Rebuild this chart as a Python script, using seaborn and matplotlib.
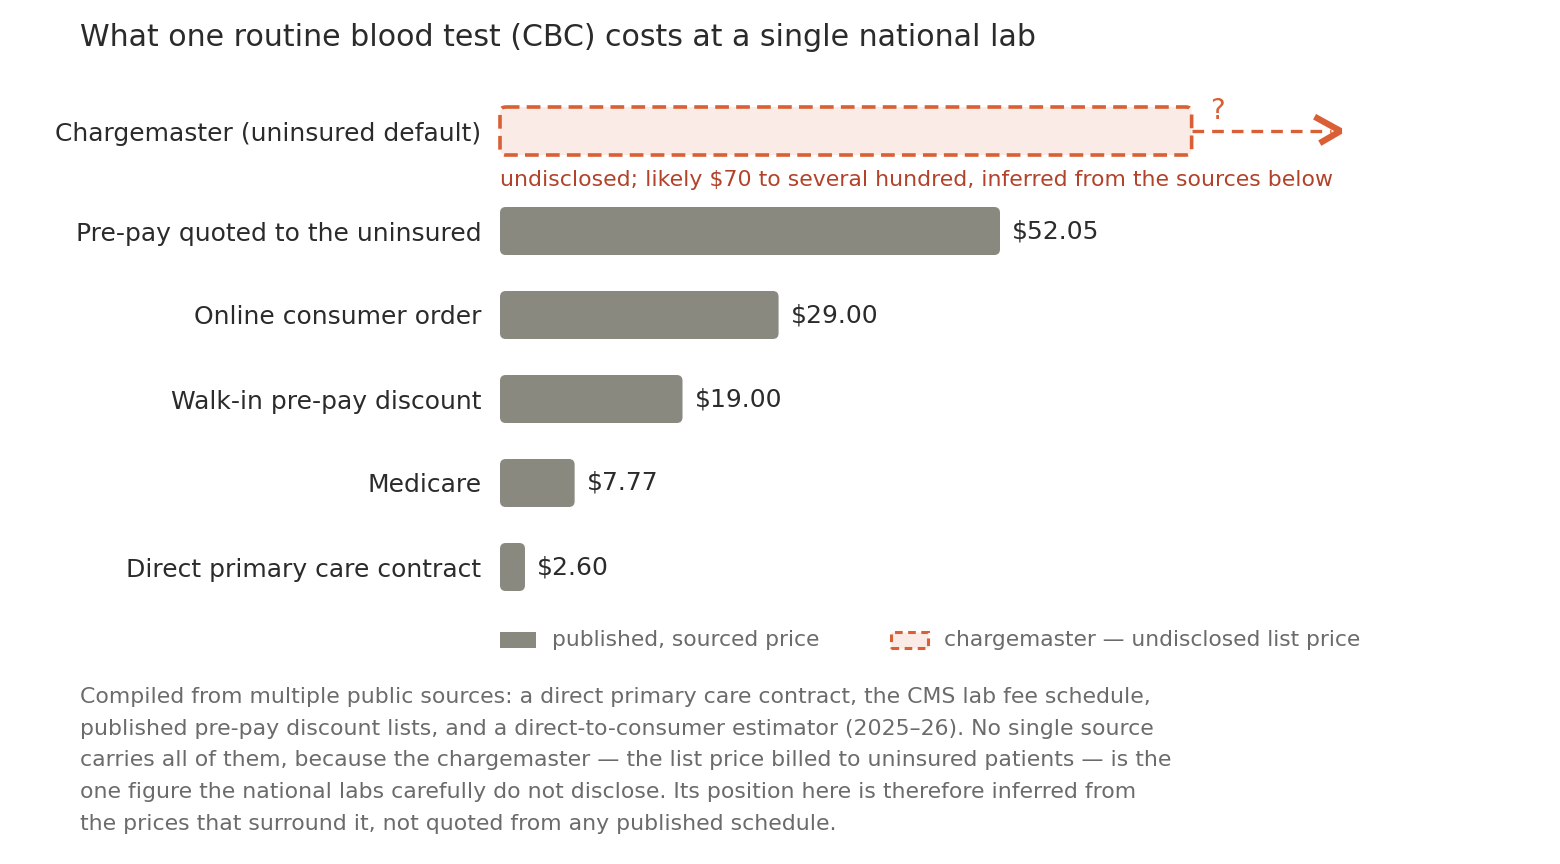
import matplotlib
matplotlib.use("Agg")
import matplotlib.pyplot as plt
import seaborn as sns
import pandas as pd
from matplotlib.patches import FancyBboxPatch, Rectangle

# data
categories = ["Pre-pay quoted to the uninsured", "Online consumer order",
              "Walk-in pre-pay discount", "Medicare", "Direct primary care contract"]
prices = [52.05, 29.00, 19.00, 7.77, 2.60]
price_labels = ["$52.05", "$29.00", "$19.00", "$7.77", "$2.60"]
charge_label = "Chargemaster (uninsured default)"
charge_low = 72      # inferred lower edge of the undisclosed list price
charge_arrow = 87.5  # "and beyond"
charge_note = "undisclosed; likely $70 to several hundred, inferred from the sources below"

title = "What one routine blood test (CBC) costs at a single national lab"
footnote = ("Compiled from multiple public sources: a direct primary care contract, the CMS lab fee schedule,\n"
            "published pre-pay discount lists, and a direct-to-consumer estimator (2025\u201326). No single source\n"
            "carries all of them, because the chargemaster \u2014 the list price billed to uninsured patients \u2014 is the\n"
            "one figure the national labs carefully do not disclose. Its position here is therefore inferred from\n"
            "the prices that surround it, not quoted from any published schedule.")

GRAY = "#8a8980"
ORANGE = "#d95f35"
PINK = "#fbebe6"
NOTE = "#b2432a"
DARK = "#2b2b2b"
MUTED = "#6b6b6b"

sns.set_theme(style="white")
plt.rcParams["font.family"] = ["DejaVu Sans"]

W, H = 1560, 864
fig = plt.figure(figsize=(W / 100, H / 100), dpi=100)
# axes spans x: 500..1460 px, y: 90..600 px
ax = fig.add_axes([500 / W, 1 - 600 / H, 960 / W, 510 / H])

df = pd.DataFrame({"category": categories, "price": prices})
bh = 48 / 84
sns.barplot(data=df, y="category", x="price", orient="h", color=GRAY,
            width=bh, ax=ax, saturation=1)

xmax = 960 / 9.606
ax.set_xlim(0, xmax)
y_charge = -100 / 84
ax.set_ylim(4 + 33 / 84, -141 / 84)

# rounded bars
asp = (1 / 84) / (1 / 9.606)
for p in list(ax.patches):
    x0, y0 = p.get_x(), p.get_y()
    w, h = p.get_width(), p.get_height()
    p.remove()
    ax.add_patch(FancyBboxPatch((x0, y0), w, h,
                                boxstyle="round,pad=0,rounding_size=0.6",
                                mutation_aspect=asp, facecolor=GRAY,
                                edgecolor="none"))

for i, (v, lab) in enumerate(zip(prices, price_labels)):
    ax.text(v + 12 / 9.606, i, lab, va="center", ha="left", fontsize=18, color=DARK)

# chargemaster box
ax.add_patch(FancyBboxPatch((0, y_charge - bh / 2), charge_low, bh,
                            boxstyle="round,pad=0,rounding_size=0.6",
                            mutation_aspect=asp, facecolor=PINK,
                            edgecolor=ORANGE, linewidth=2.6,
                            linestyle=(0, (3.8, 2)), clip_on=False))
ax.plot([charge_low, charge_arrow - 1.0], [y_charge, y_charge], color=ORANGE,
        lw=2.4, ls=(0, (3.5, 2.4)), clip_on=False)
dx, dy = 2.7, 0.17
ax.plot([charge_arrow - dx, charge_arrow, charge_arrow - dx * 0.8],
        [y_charge - dy, y_charge, y_charge + dy * 0.85], color=ORANGE, lw=4.5,
        solid_capstyle="butt", solid_joinstyle="bevel", clip_on=False)
ax.text(charge_low + 2.7, y_charge - 0.07, "?", ha="center", va="bottom",
        fontsize=20, color=ORANGE)
ax.text(0, y_charge + 0.585, charge_note, ha="left", va="center",
        fontsize=15.85, color=NOTE)

ax.set_yticks([y_charge] + list(range(len(categories))))
ax.set_yticklabels([charge_label] + categories, fontsize=18, color=DARK)
ax.tick_params(axis="y", length=0, pad=13.5)
ax.set_xticks([])
ax.set_xlabel("")
ax.set_ylabel("")
sns.despine(ax=ax, left=True, bottom=True)

fig.text(80 / W, 1 - 37 / H, title, ha="left", va="center", fontsize=21.6, color=DARK)

# legend
fig.patches.append(Rectangle((500 / W, 1 - 648 / H), 36 / W, 16 / H,
                             transform=fig.transFigure, facecolor=GRAY,
                             edgecolor="none"))
fig.text(552 / W, 1 - 640 / H, "published, sourced price", ha="left", va="center",
         fontsize=15.7, color=MUTED)
fig.patches.append(Rectangle((891 / W, 1 - 648 / H), 37 / W, 16 / H,
                             transform=fig.transFigure, facecolor=PINK,
                             edgecolor=ORANGE, linewidth=2.2, linestyle=(0, (2.5, 1.8))))
fig.text(944 / W, 1 - 640 / H, "chargemaster \u2014 undisclosed list price", ha="left",
         va="center", fontsize=15.7, color=MUTED)

fig.text(80 / W, 1 - 687 / H, footnote, ha="left", va="top", fontsize=15.85,
         color=MUTED, linespacing=1.73)

fig.savefig("out.png", dpi=100)
